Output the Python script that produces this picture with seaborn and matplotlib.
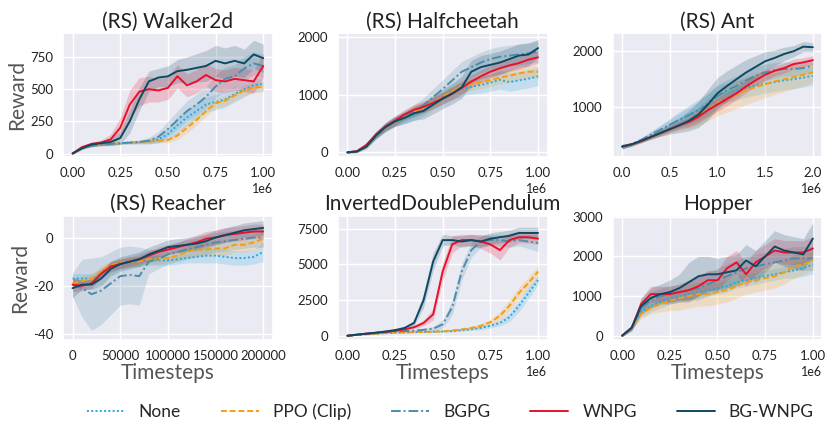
import numpy as np
import pandas as pd
import seaborn as sns
import matplotlib.pyplot as plt

# methods and their styles
METHODS = ['None', 'PPO (Clip)', 'BGPG', 'WNPG', 'BG-WNPG']
COLORS = ['#29a8e0', '#f59d0e', '#4d8cab', '#e8102a', '#0d4a62']
DASHES = [(1, 1.2), (3, 1.5), (5, 1.5, 1, 1.5), '', '']

# x grids (21 points per curve)
x_1m = np.linspace(0, 1e6, 21)
x_2m = np.linspace(0, 2e6, 21)
x_200k = np.linspace(0, 2e5, 21)

# (RS) Walker2d
walker_mean = {
  'None':       [0, 45, 60, 70, 75, 80, 85, 88, 95, 110, 150, 220, 280, 330, 380, 400, 420, 460, 500, 530, 540],
  'PPO (Clip)': [0, 45, 60, 70, 75, 80, 85, 88, 92, 100, 105, 140, 200, 260, 330, 390, 410, 450, 490, 510, 520],
  'BGPG':       [0, 45, 60, 70, 75, 80, 85, 90, 100, 130, 190, 260, 330, 380, 440, 520, 580, 600, 660, 700, 680],
  'WNPG':       [0, 50, 75, 85, 110, 200, 380, 480, 500, 490, 510, 600, 530, 560, 610, 570, 560, 580, 570, 560, 680],
  'BG-WNPG':    [0, 40, 70, 80, 90, 120, 250, 420, 560, 590, 600, 640, 650, 665, 680, 720, 700, 720, 700, 770, 740],
}
walker_sd = {
  'None':       [5, 8, 8, 8, 8, 8, 10, 12, 20, 30, 50, 60, 60, 60, 60, 60, 60, 60, 60, 50, 50],
  'PPO (Clip)': [5, 8, 8, 8, 8, 8, 10, 10, 12, 15, 20, 30, 40, 40, 40, 40, 40, 40, 40, 40, 40],
  'BGPG':       [5, 8, 8, 8, 8, 8, 10, 15, 25, 40, 60, 70, 80, 80, 80, 90, 90, 90, 90, 90, 90],
  'WNPG':       [5, 10, 15, 20, 40, 80, 110, 110, 100, 90, 90, 90, 90, 90, 90, 90, 90, 90, 90, 90, 90],
  'BG-WNPG':    [5, 10, 15, 20, 30, 50, 90, 90, 80, 70, 80, 90, 100, 110, 120, 120, 120, 120, 110, 110, 110],
}

# (RS) Halfcheetah
cheetah_mean = {
  'None':       [0, 20, 120, 300, 430, 530, 580, 640, 730, 850, 940, 1030, 1100, 1140, 1170, 1210, 1260, 1220, 1250, 1280, 1320],
  'PPO (Clip)': [0, 20, 120, 300, 440, 540, 620, 710, 780, 870, 960, 1060, 1140, 1180, 1220, 1250, 1300, 1330, 1370, 1400, 1400],
  'BGPG':       [0, 20, 120, 300, 440, 540, 640, 720, 820, 960, 1100, 1250, 1400, 1480, 1560, 1620, 1660, 1680, 1700, 1720, 1750],
  'WNPG':       [0, 20, 130, 310, 450, 550, 660, 740, 790, 860, 940, 1020, 1120, 1230, 1320, 1400, 1460, 1510, 1550, 1610, 1650],
  'BG-WNPG':    [0, 15, 100, 290, 440, 540, 600, 680, 720, 830, 930, 1020, 1130, 1400, 1480, 1520, 1560, 1620, 1680, 1700, 1810],
}
cheetah_sd = {
  'None':       [10, 20, 40, 60, 70, 80, 80, 90, 100, 100, 110, 110, 120, 130, 140, 150, 160, 160, 160, 160, 160],
  'PPO (Clip)': [10, 20, 40, 60, 70, 80, 80, 90, 100, 100, 100, 110, 110, 110, 110, 110, 110, 110, 110, 110, 110],
  'BGPG':       [10, 20, 40, 60, 70, 80, 90, 110, 130, 150, 160, 170, 180, 180, 180, 180, 180, 180, 180, 180, 180],
  'WNPG':       [10, 20, 40, 60, 70, 80, 80, 90, 100, 100, 100, 110, 110, 110, 110, 110, 110, 110, 110, 110, 110],
  'BG-WNPG':    [10, 20, 40, 60, 80, 90, 100, 120, 140, 160, 170, 180, 190, 200, 200, 200, 200, 200, 200, 200, 150],
}

# (RS) Ant
ant_mean = {
  'None':       [300, 340, 410, 500, 590, 680, 770, 860, 950, 1080, 1220, 1260, 1300, 1350, 1390, 1420, 1450, 1480, 1500, 1530, 1560],
  'PPO (Clip)': [300, 340, 400, 470, 540, 610, 680, 750, 840, 960, 1080, 1150, 1230, 1300, 1360, 1410, 1460, 1500, 1540, 1580, 1620],
  'BGPG':       [300, 340, 420, 510, 600, 690, 780, 860, 950, 1050, 1200, 1300, 1380, 1480, 1560, 1620, 1660, 1680, 1680, 1700, 1740],
  'WNPG':       [300, 340, 400, 470, 540, 610, 680, 740, 830, 950, 1050, 1150, 1250, 1370, 1480, 1580, 1650, 1700, 1770, 1800, 1840],
  'BG-WNPG':    [300, 340, 400, 470, 540, 610, 680, 760, 870, 1050, 1250, 1380, 1500, 1620, 1720, 1820, 1880, 1950, 2000, 2080, 2070],
}
ant_sd = {
  'None':       [40, 30, 40, 60, 80, 100, 120, 140, 150, 160, 170, 170, 170, 170, 170, 170, 170, 170, 170, 170, 170],
  'PPO (Clip)': [40, 30, 30, 40, 50, 60, 80, 120, 160, 200, 230, 240, 250, 250, 250, 240, 230, 220, 210, 200, 180],
  'BGPG':       [40, 30, 40, 60, 80, 110, 140, 170, 190, 200, 200, 190, 180, 170, 160, 150, 140, 130, 120, 120, 120],
  'WNPG':       [40, 30, 30, 40, 50, 60, 70, 90, 110, 120, 120, 120, 110, 110, 100, 100, 90, 90, 90, 80, 80],
  'BG-WNPG':    [40, 30, 30, 40, 60, 90, 130, 180, 230, 270, 280, 270, 250, 230, 200, 170, 140, 120, 100, 90, 80],
}

# (RS) Reacher
reacher_mean = {
  'None':       [-17, -17, -17, -15, -12.5, -11, -10.5, -10, -9.5, -9.5, -9.5, -9, -8.5, -8, -7.5, -7.5, -8, -8.5, -8.5, -8, -6],
  'PPO (Clip)': [-19, -18, -17, -14, -11.5, -10.5, -10, -10, -9, -9, -8.5, -7.5, -6, -5, -5, -4.5, -4.5, -3, -3, -2, -0.5],
  'BGPG':       [-19.5, -21, -23.5, -22, -19, -16, -15.5, -16, -10, -9, -7, -6, -5, -4, -3, -2, -1.5, -1, -0.5, 0, 0],
  'WNPG':       [-19.5, -20, -19, -15, -12, -11, -10, -9, -7.5, -6, -5, -4, -3, -2, -0.5, 0, 1, 1.5, 2, 2.5, 2.5],
  'BG-WNPG':    [-21, -19.5, -19.5, -17, -13, -11, -10, -9, -7, -5.5, -4, -3.5, -3, -2.5, -1.5, 0, 1, 2, 3, 3.5, 4],
}
reacher_sd = {
  'None':       [2, 2, 2, 2, 2, 2, 2, 2, 2, 2, 2, 2, 2, 2.5, 3, 3, 3, 3, 3, 3, 4],
  'PPO (Clip)': [2, 2, 2, 2, 2, 2, 2, 2, 2, 2, 2, 2, 2.5, 3, 3, 3, 3, 3, 3, 3, 3],
  'BGPG':       [5, 12, 15, 14, 13, 12, 12, 12, 5, 4, 4, 4, 4, 4, 4, 4, 4, 4, 4, 4, 4],
  'WNPG':       [3, 2, 2, 2, 2, 2, 2, 2, 2, 2, 2, 2, 2.5, 3, 3, 3, 3, 3, 3, 3, 3],
  'BG-WNPG':    [4, 2, 2, 3, 3, 3, 3, 3, 3, 3, 3, 3, 3, 3, 3, 3, 3, 3, 3, 3, 3],
}

# InvertedDoublePendulum
pendulum_mean = {
  'None':       [0, 60, 110, 150, 190, 220, 240, 260, 270, 290, 310, 330, 400, 470, 560, 700, 900, 1300, 2100, 3000, 3900],
  'PPO (Clip)': [0, 60, 110, 150, 190, 220, 240, 260, 270, 290, 310, 370, 450, 550, 700, 950, 1400, 2100, 3000, 3700, 4500],
  'BGPG':       [0, 70, 130, 190, 250, 300, 330, 360, 420, 500, 800, 2000, 4500, 6000, 6600, 6700, 6700, 6600, 6700, 6600, 6500],
  'WNPG':       [0, 80, 150, 210, 280, 350, 450, 600, 900, 1500, 4500, 6400, 6700, 6700, 6600, 6400, 6000, 6700, 6900, 6900, 6800],
  'BG-WNPG':    [0, 80, 150, 220, 300, 400, 550, 900, 2500, 5200, 6700, 6700, 6600, 6700, 6600, 6800, 6900, 7000, 7200, 7200, 7200],
}
pendulum_sd = {
  'None':       [20, 20, 20, 20, 20, 30, 30, 30, 30, 40, 50, 60, 80, 100, 130, 150, 200, 300, 400, 400, 300],
  'PPO (Clip)': [20, 20, 20, 20, 20, 30, 30, 30, 30, 40, 50, 60, 80, 100, 150, 200, 300, 400, 400, 400, 400],
  'BGPG':       [20, 20, 30, 40, 50, 60, 70, 80, 100, 150, 300, 500, 600, 500, 400, 400, 400, 400, 400, 500, 600],
  'WNPG':       [20, 20, 30, 40, 50, 60, 80, 120, 200, 400, 600, 600, 400, 400, 500, 600, 700, 500, 400, 400, 400],
  'BG-WNPG':    [20, 20, 30, 40, 50, 70, 100, 200, 500, 600, 400, 300, 400, 400, 400, 400, 400, 400, 400, 400, 400],
}

# Hopper
hopper_mean = {
  'None':       [0, 200, 600, 750, 850, 950, 1000, 1050, 1100, 1150, 1200, 1250, 1350, 1400, 1450, 1500, 1550, 1600, 1650, 1700, 1800],
  'PPO (Clip)': [0, 200, 550, 700, 800, 880, 950, 1000, 1050, 1050, 1100, 1150, 1250, 1350, 1400, 1450, 1500, 1600, 1750, 1800, 1900],
  'BGPG':       [0, 200, 700, 900, 1000, 1050, 1100, 1150, 1200, 1300, 1400, 1500, 1600, 1700, 1750, 1800, 1850, 1900, 1950, 1950, 1950],
  'WNPG':       [0, 200, 800, 1050, 1050, 1050, 1100, 1150, 1250, 1400, 1400, 1700, 1850, 1550, 1850, 2000, 2150, 2100, 2100, 2100, 2200],
  'BG-WNPG':    [0, 200, 750, 950, 1050, 1100, 1200, 1350, 1500, 1550, 1550, 1600, 1650, 1900, 1750, 2000, 2250, 2150, 2100, 2050, 2450],
}
hopper_sd = {
  'None':       [20, 60, 120, 150, 150, 150, 150, 150, 150, 150, 150, 150, 150, 150, 150, 150, 150, 150, 200, 200, 250],
  'PPO (Clip)': [20, 60, 120, 150, 200, 250, 300, 300, 300, 300, 300, 300, 300, 300, 300, 300, 300, 300, 300, 250, 250],
  'BGPG':       [20, 60, 150, 200, 200, 200, 200, 250, 300, 300, 300, 300, 300, 300, 300, 300, 300, 300, 300, 300, 300],
  'WNPG':       [20, 60, 150, 200, 200, 200, 200, 250, 250, 250, 250, 300, 300, 300, 300, 300, 300, 300, 300, 300, 300],
  'BG-WNPG':    [20, 80, 200, 250, 250, 300, 350, 500, 500, 450, 400, 400, 400, 400, 400, 400, 400, 400, 400, 400, 400],
}

PANELS = [
  ('(RS) Walker2d', x_1m, walker_mean, walker_sd, (-30, 935), [0, 250, 500, 750]),
  ('(RS) Halfcheetah', x_1m, cheetah_mean, cheetah_sd, (-87, 2070), [0, 1000, 2000]),
  ('(RS) Ant', x_2m, ant_mean, ant_sd, (107, 2321), [1000, 2000]),
  ('(RS) Reacher', x_200k, reacher_mean, reacher_sd, (-42.5, 9), [-40, -20, 0]),
  ('InvertedDoublePendulum', x_1m, pendulum_mean, pendulum_sd, (-300, 8400), [0, 2500, 5000, 7500]),
  ('Hopper', x_1m, hopper_mean, hopper_sd, (-110, 3025), [0, 1000, 2000, 3000]),
]

sns.set_theme(style='darkgrid')
plt.rcParams['font.family'] = ['Lato', 'DejaVu Sans']
plt.rcParams['axes.unicode_minus'] = False

fig, axes = plt.subplots(2, 3, figsize=(8.29, 4.36), dpi=100)
fig.subplots_adjust(left=0.076, right=0.992, bottom=0.22, top=0.924, wspace=0.31, hspace=0.47)

for i, (title, xs, means, sds, ylim, yticks) in enumerate(PANELS):
  ax = axes.flat[i]
  for m, c, d in zip(METHODS, COLORS, DASHES):
    mu = np.array(means[m], dtype=float)
    sd = np.array(sds[m], dtype=float)
    ax.fill_between(xs, mu - sd, mu + sd, color=c, alpha=0.2, lw=0)
    df = pd.DataFrame({'x': xs, 'y': mu})
    sns.lineplot(data=df, x='x', y='y', ax=ax, color=c, lw=1.4, label=m)
    if d:
      ax.lines[-1].set_dashes(d)
  ax.set_title(title, fontsize=15, pad=4, color='#222222')
  ax.set_ylim(*ylim)
  ax.set_yticks(yticks)
  ax.tick_params(labelsize=9.5, pad=1, colors='#222222')
  ax.set_xlabel('Timesteps' if i >= 3 else '', fontsize=15, color='#555555', labelpad=1)
  ax.set_ylabel('Reward' if i % 3 == 0 else '', fontsize=15, color='#555555', labelpad=2)
  ax.xaxis.get_offset_text().set_fontsize(9)
  if ax.get_legend():
    ax.get_legend().remove()

axes.flat[3].set_xticks([0, 50000, 100000, 150000, 200000])
axes.flat[3].ticklabel_format(axis='x', style='plain')

handles, labels = axes.flat[0].get_legend_handles_labels()
fig.legend(handles[:5], labels[:5], loc='lower center', ncol=5, frameon=False,
           fontsize=12.5, handlelength=2.2, columnspacing=2.3, handletextpad=0.8,
           bbox_to_anchor=(0.543, 0.0))

fig.savefig('out.png', dpi=100, facecolor='white')
